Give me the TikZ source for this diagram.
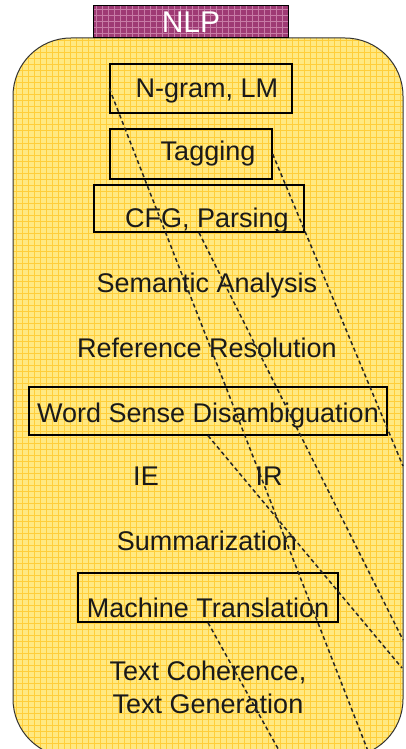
\documentclass[tikz,border=0pt]{standalone}
\usepackage{fontspec}
\setmainfont{Liberation Sans}
\usepackage{tikz}

\definecolor{nlpyellow}{HTML}{FFE982}
\definecolor{nlpgrid}{HTML}{FFCE3A}
\definecolor{nlppurple}{HTML}{9E3A74}
\definecolor{nlppurplegrid}{HTML}{C77BA6}
\definecolor{nlptext}{HTML}{1A1A1A}

\begin{document}
\begin{tikzpicture}[x=1pt,y=-1pt]
  \tikzstyle{topic}=[text=nlptext,font=\fontsize{27}{33}\selectfont,anchor=base,inner sep=0pt]
  \tikzstyle{topicbox}=[draw=black,line width=1.3pt,inner sep=0pt]
  \tikzstyle{link}=[draw=black!85,line width=1.5pt,dash pattern=on 4pt off 3pt]
  \useasboundingbox (0,0) rectangle (405,749);

  % yellow field with its grid
  \begin{scope}
    \clip[rounded corners=58] (13,38) rectangle (403,757);
    \fill[nlpyellow] (13,38) rectangle (403,757);
    \foreach \x in {16,22,...,403} \draw[nlpgrid,line width=1pt] (\x,38) -- (\x,757);
    \foreach \y in {41,47,...,757} \draw[nlpgrid,line width=1pt] (13,\y) -- (403,\y);
  \end{scope}
  \draw[black!80,line width=1pt,rounded corners=58] (13,38) rectangle (403,757);

  % tab
  \begin{scope}
    \clip (93,6) rectangle (288,38);
    \fill[nlppurple] (93,6) rectangle (288,38);
    \foreach \x in {96,102,...,288} \draw[nlppurplegrid,line width=0.8pt] (\x,6) -- (\x,38);
    \foreach \y in {9,15,...,38} \draw[nlppurplegrid,line width=0.8pt] (93,\y) -- (288,\y);
  \end{scope}
  \draw[black,line width=1pt] (93,6) rectangle (288,38);
  \node[anchor=base,text=white,font=\fontsize{30}{30}\selectfont,inner sep=0pt] (nlp) at (191,33) {NLP};

  % boxes
  \node[topicbox,minimum width=182,minimum height=49] (ngram) at (201,88.5) {};
  \node[topicbox,minimum width=162,minimum height=50] (tagging) at (191,154) {};
  \node[topicbox,minimum width=210,minimum height=47] (cfg) at (199,208.5) {};
  \node[topicbox,minimum width=358,minimum height=48] (wsd) at (208,411) {};
  \node[topicbox,minimum width=260,minimum height=49] (mt) at (208,597.5) {};

  % texts
  \node[topic] (ngramtext) at (207,98) {N-gram, LM};
  \node[topic] (taggingtext) at (208,160) {Tagging};
  \node[topic] (cfgtext) at (207,227) {CFG, Parsing};
  \node[topic] (semantic) at (207,292) {Semantic Analysis};
  \node[topic] (reference) at (207,357) {Reference Resolution};
  \node[topic] (wsdtext) at (208,422) {Word Sense Disambiguation};
  \node[topic] (ie) at (146,485) {IE};
  \node[topic] (ir) at (269,485) {IR};
  \node[topic] (summ) at (207,550) {Summarization};
  \node[topic] (mttext) at (208,617) {Machine Translation};
  \node[topic,align=center] (coherence) at (208,713) {Text Coherence,\\Text Generation};

  % dashed links
  \coordinate (ngramend) at (368,751);
  \coordinate (taggingend) at (403,466);
  \coordinate (cfgend) at (403,640);
  \coordinate (wsdend) at (402,668);
  \coordinate (mtend) at (281,754);
  \draw[link] (ngram.west) -- (ngramend);
  \draw[link] (tagging.east) -- (taggingend);
  \draw[link] (cfg.south) -- (cfgend);
  \draw[link] (wsd.south) -- (wsdend);
  \draw[link] (mt.south) -- (mtend);
\end{tikzpicture}
\end{document}
